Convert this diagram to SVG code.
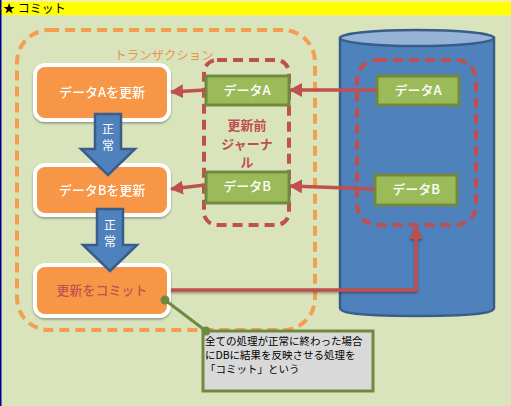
<svg xmlns="http://www.w3.org/2000/svg" width="511" height="406" viewBox="0 0 511 406">
<style>
text{font-family:"Noto Sans CJK JP","Liberation Sans",sans-serif}
.node{fill:#f79646;stroke:#fff;stroke-width:4}
.t{fill:#fff;font-size:13px;text-anchor:middle;font-weight:500}
.data{fill:#9bbb59;stroke:#71893f;stroke-width:3}
.conn{fill:none;stroke:#c0504d;stroke-width:3.5}
.dr{fill:none;stroke:#c0504d;stroke-width:4;stroke-dasharray:10 6}
.block{fill:#4f81bd;stroke:#385d8a;stroke-width:2.5}
.note{fill:#000;font-size:10.5px}
.bt{fill:#fff;font-size:12px;text-anchor:middle}
</style>
<defs>
<marker id="ah" markerUnits="userSpaceOnUse" markerWidth="13" markerHeight="14" refX="12" refY="7" orient="auto"><path d="M0 0L13 7L0 14Z" fill="#c0504d"/></marker>
<filter id="sh" x="-10%" y="-10%" width="120%" height="125%"><feDropShadow dx="0" dy="1.5" stdDeviation="1.2" flood-color="#000" flood-opacity=".35"/></filter>
</defs>
<rect width="511" height="406" fill="#d9e4bd"/>
<rect x="0" y="0" width="511" height="2" fill="#f2f2a0"/>
<rect x="0" y="2" width="511" height="13" fill="#ffff00"/>
<rect x="0" y="15" width="511" height="1" fill="#e8ec90"/>
<rect x="0" y="0" width="1.5" height="406" fill="#00008b"/>
<text x="3" y="13" font-size="12" fill="#000">★ コミット</text>

<g id="db">
<path d="M340 38V308C340 311 344 316 417 316C490 316 494 311 494 308V38Z" fill="#4f81bd" stroke="#385d8a" stroke-width="2.5"/>
<ellipse cx="417" cy="38" rx="77" ry="8" fill="#95b3d7" stroke="#385d8a" stroke-width="2.5"/>
</g>

<g id="transaction">
<rect x="17" y="30" width="298" height="300" rx="32" fill="none" stroke="#f79646" stroke-width="4" stroke-dasharray="10 6" opacity=".9"/>
<text x="164" y="60" font-size="12.4" fill="#e8964c" text-anchor="middle">トランザクション</text>
</g>

<g id="journal-box"><rect x="204" y="60" width="85" height="165" rx="13" class="dr"/></g>
<g id="db-box"><rect x="357" y="60" width="119" height="165" rx="20" class="dr"/></g>

<g id="node-a" filter="url(#sh)"><rect x="35" y="65" width="134" height="55" rx="10" class="node"/><text x="102" y="97" class="t">データAを更新</text></g>
<g id="node-b" filter="url(#sh)"><rect x="35" y="165" width="134" height="50" rx="10" class="node"/><text x="102" y="195" class="t">データBを更新</text></g>
<g id="node-c" filter="url(#sh)"><rect x="35" y="265" width="134" height="51" rx="10" class="node"/><text x="102" y="295" class="t" style="fill:#c0504d">更新をコミット</text></g>

<g id="arrow-1"><path class="block" d="M95 114H121V149H135L108 175L81 149H95Z"/><text x="108" y="134" class="bt">正</text><text x="108" y="150" class="bt">常</text></g>
<g id="arrow-2"><path class="block" d="M97 209H123V245H137L110 271L83 245H97Z"/><text x="110" y="230" class="bt">正</text><text x="110" y="246" class="bt">常</text></g>

<g id="journal-label" fill="#c0504d" font-size="13" font-weight="700" text-anchor="middle">
<text x="247" y="130">更新前</text><text x="247" y="149">ジャーナ</text><text x="247" y="167">ル</text>
</g>

<g id="data-a-left"><rect x="206" y="76" width="83" height="29" class="data"/><text x="247" y="95" class="t">データA</text></g>
<g id="data-b-left"><rect x="206" y="172" width="83" height="31" class="data"/><text x="247" y="191" class="t">データB</text></g>
<g id="data-a-right"><rect x="377" y="76" width="82" height="29" class="data"/><text x="418" y="95" class="t">データA</text></g>
<g id="data-b-right"><rect x="375" y="175" width="82" height="30" class="data"/><text x="416" y="194" class="t">データB</text></g>

<g id="connectors">
<path class="conn" d="M377 90H290" marker-end="url(#ah)"/>
<path class="conn" d="M375 189L290 186" marker-end="url(#ah)"/>
<path class="conn" d="M205 90L171 92" marker-end="url(#ah)"/>
<path class="conn" d="M205 185L171 189" marker-end="url(#ah)"/>
<path class="conn" d="M171 290H416V227" marker-end="url(#ah)" filter="url(#sh)"/>
<path d="M165 300L206 331" stroke="#71893f" stroke-width="3" fill="none"/>
<circle cx="165" cy="300" r="4.5" fill="#71893f"/>
</g>

<g id="note">
<rect x="203" y="331" width="170" height="60" fill="#d9d9d9" stroke="#71893f" stroke-width="3"/>
<circle cx="206" cy="331" r="4.5" fill="#71893f"/>
<text x="205" y="345" class="note">全ての処理が正常に終わった場合</text>
<text x="205" y="359" class="note">にDBに結果を反映させる処理を</text>
<text x="205" y="373" class="note">「コミット」という</text>
</g>
</svg>
